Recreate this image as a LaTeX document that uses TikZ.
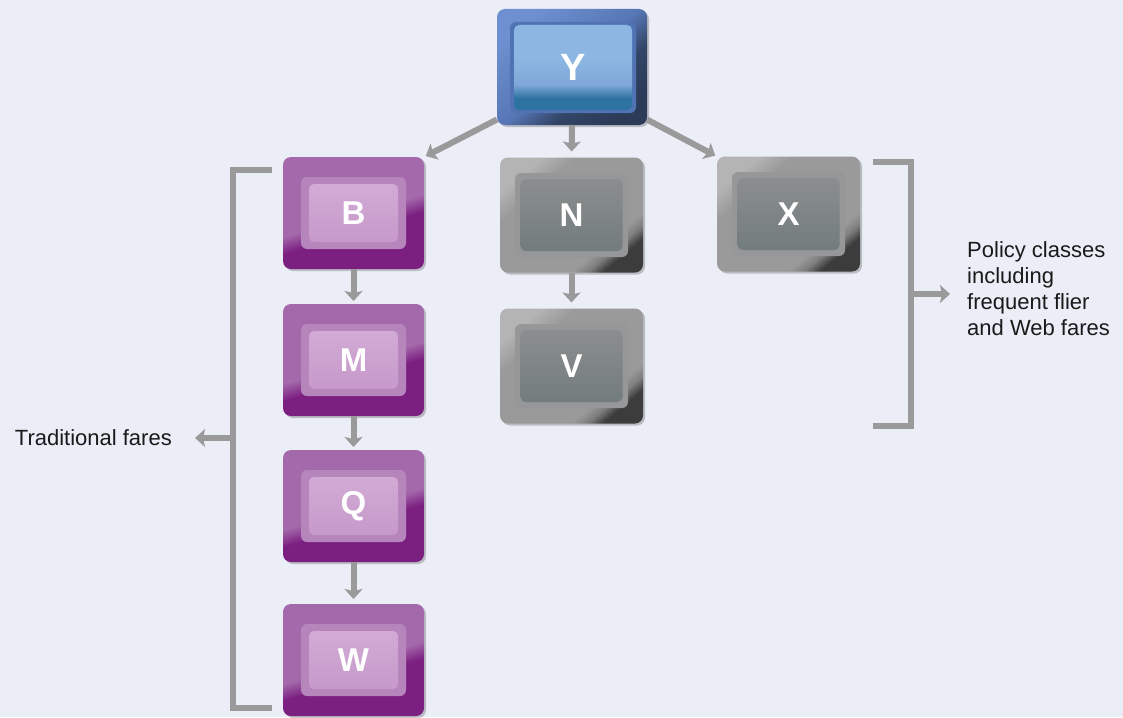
\documentclass[tikz,border=0pt]{standalone}
\usepackage{fontspec}
\setmainfont{Liberation Sans}
\usetikzlibrary{arrows.meta,shadows}

\definecolor{bgcol}{HTML}{EBEDF7}
\definecolor{linkgray}{HTML}{9A9A9A}
\definecolor{labelcol}{HTML}{1A1A1A}
\definecolor{purplelight}{HTML}{A469AB}
\definecolor{purpledark}{HTML}{7B1F80}
\definecolor{purplering}{HTML}{B685BB}
\definecolor{purplecoretop}{HTML}{D2ABD5}
\definecolor{purplecorebot}{HTML}{C699CA}
\definecolor{graylight}{HTML}{B4B4B4}
\definecolor{graymid}{HTML}{9A9A9A}
\definecolor{graydark}{HTML}{3C3C3C}
\definecolor{grayring}{HTML}{959798}
\definecolor{graycoretop}{HTML}{8B8E8F}
\definecolor{graycorebot}{HTML}{737C7D}
\definecolor{bluelight}{HTML}{6F90D0}
\definecolor{bluemid}{HTML}{5676B5}
\definecolor{bluedark}{HTML}{2C3B58}
\definecolor{bluering}{HTML}{5074B3}
\definecolor{bluecoretop}{HTML}{8DB6E3}
\definecolor{bluecoremid}{HTML}{7FA8D8}
\definecolor{bluecorebot}{HTML}{2E72A2}

% outer faces of the boxes (bounding box is 25bp--75bp)
\pgfdeclareverticalshading{purpleouter}{100bp}{color(0bp)=(purpledark); color(25bp)=(purpledark);
  color(42bp)=(purpledark); color(49bp)=(purplelight); color(75bp)=(purplelight); color(100bp)=(purplelight)}
\pgfdeclareverticalshading{grayouter}{100bp}{color(0bp)=(graydark); color(25bp)=(graydark);
  color(29bp)=(graymid!70!graydark); color(33bp)=(graymid); color(66bp)=(graymid); color(75bp)=(graylight); color(100bp)=(graylight)}
\pgfdeclareverticalshading{blueouter}{100bp}{color(0bp)=(bluedark); color(25bp)=(bluedark);
  color(38bp)=(bluedark!85!bluemid); color(50bp)=(bluemid); color(75bp)=(bluelight); color(100bp)=(bluelight)}
\pgfdeclareverticalshading{bluecore}{100bp}{color(0bp)=(bluecorebot); color(25bp)=(bluecorebot);
  color(32bp)=(bluecorebot); color(40bp)=(bluecoremid); color(55bp)=(bluecoretop); color(75bp)=(bluecoretop); color(100bp)=(bluecoretop)}

\tikzset{
  box/.style={rounded corners=8pt, inner sep=0pt, outer sep=0pt,
    drop shadow={shadow xshift=2pt, shadow yshift=-2pt, opacity=.3, fill=black!70}},
  purplebox/.style={box, minimum width=141pt, minimum height=112pt, shading=purpleouter, shading angle=17},
  graybox/.style={box, minimum width=143pt, minimum height=115pt, shading=grayouter, shading angle=40},
  bluebox/.style={box, minimum width=150pt, minimum height=116pt, shading=blueouter, shading angle=40},
  ring/.style={rounded corners=6pt, inner sep=0pt, outer sep=0pt},
  core/.style={rounded corners=5pt, inner sep=0pt, outer sep=0pt, text=white,
    font=\fontsize{33}{33}\selectfont\bfseries},
  link/.style={draw=linkgray, line width=6pt, -{Stealth[width=18pt,length=10pt,inset=2pt]}},
  bracket/.style={draw=linkgray, line width=6pt},
  label/.style={text=labelcol, inner sep=0pt, font=\fontsize{22}{26}\selectfont}
}

\begin{document}
\begin{tikzpicture}[x=1pt,y=-1pt]

  \fill[bgcol] (0,0) rectangle (1123,717);
  \useasboundingbox (0,0) rectangle (1123,717);

  % top box
  \node[bluebox] (Y) at (572,67) {};
  \node[ring, fill=bluering, minimum width=126pt, minimum height=91pt] at (573,67.5) {};
  \node[core, shading=bluecore, minimum width=118pt, minimum height=85pt,
    font=\fontsize{38}{38}\selectfont\bfseries] (Yc) at (573,67.5) {Y};

  % traditional fares
  \node[purplebox] (B) at (353.5,213) {};
  \node[ring, fill=purplering, minimum width=105pt, minimum height=72pt] at (B) {};
  \node[core, top color=purplecoretop, bottom color=purplecorebot, minimum width=89pt, minimum height=58pt] (Bc) at (B) {B};

  \node[purplebox] (M) at (353.5,360) {};
  \node[ring, fill=purplering, minimum width=105pt, minimum height=72pt] at (M) {};
  \node[core, top color=purplecoretop, bottom color=purplecorebot, minimum width=89pt, minimum height=58pt] (Mc) at (M) {M};

  \node[purplebox] (Q) at (353.5,506) {};
  \node[ring, fill=purplering, minimum width=105pt, minimum height=72pt] at (Q) {};
  \node[core, top color=purplecoretop, bottom color=purplecorebot, minimum width=89pt, minimum height=58pt] (Qc) at (Q) {Q};

  \node[purplebox] (W) at (353.5,660) {};
  \node[ring, fill=purplering, minimum width=105pt, minimum height=72pt] at (W) {};
  \node[core, top color=purplecoretop, bottom color=purplecorebot, minimum width=89pt, minimum height=58pt] (Wc) at (W) {W};

  % policy classes
  \node[graybox] (N) at (571.5,215) {};
  \node[ring, fill=grayring, minimum width=113pt, minimum height=84pt] at (N) {};
  \node[core, top color=graycoretop, bottom color=graycorebot, minimum width=102pt, minimum height=72pt] (Nc) at (N) {N};

  \node[graybox] (V) at (571.5,366) {};
  \node[ring, fill=grayring, minimum width=113pt, minimum height=84pt] at (V) {};
  \node[core, top color=graycoretop, bottom color=graycorebot, minimum width=102pt, minimum height=72pt] (Vc) at (V) {V};

  \node[graybox] (X) at (788.5,214) {};
  \node[ring, fill=grayring, minimum width=113pt, minimum height=84pt] at (X) {};
  \node[core, top color=graycoretop, bottom color=graycorebot, minimum width=102pt, minimum height=72pt] (Xc) at (X) {X};

  % arrows between boxes
  \draw[link, shorten >=2pt] (Y.215) -- (B.north east);
  \draw[link, shorten >=6pt] (Y.south) -- (N.north);
  \draw[link, shorten >=2pt] (Y.325) -- (X.north west);
  \draw[link, shorten >=3pt] (B.south) -- (M.north);
  \draw[link, shorten >=3pt] (M.south) -- (Q.north);
  \draw[link, shorten >=5pt] (Q.south) -- (W.north);
  \draw[link, shorten >=6pt] (N.south) -- (V.north);

  % brackets
  \draw[bracket] (272,170) -- (233,170) -- (233,708) -- (272,708);
  \draw[bracket] (873,162) -- (911,162) -- (911,426) -- (873,426);

  \coordinate (tradbr) at (233,438);
  \coordinate (polbr) at (911,294);

  \node[label, anchor=east] (trad) at (172,438) {Traditional fares};
  \node[label, anchor=north west, align=left] (policy) at (967,241)
    {Policy classes\\including\\frequent flier\\and Web fares};

  \draw[link, shorten >=23pt] (tradbr) -- (tradbr -| trad.east);
  \draw[link, shorten >=17pt] (polbr) -- (polbr -| policy.west);

\end{tikzpicture}
\end{document}
